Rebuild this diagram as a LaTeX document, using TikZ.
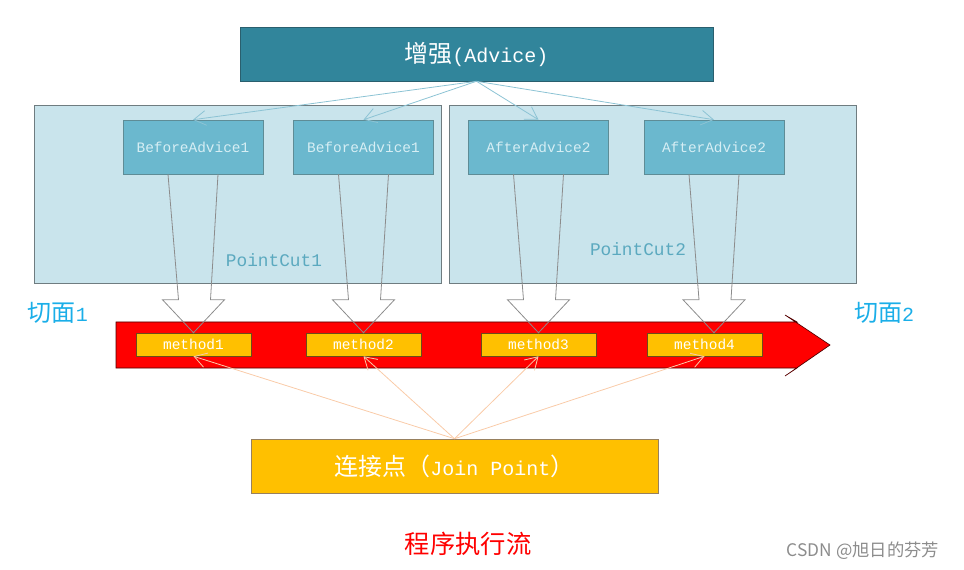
\documentclass[tikz,border=0pt]{standalone}
\usepackage{xcolor}
\usepackage{fontspec}
\setmainfont{Liberation Mono}[Scale=0.8333]
\newfontfamily\cjk{Noto Sans CJK SC}
\usetikzlibrary{arrows.meta,calc}

\definecolor{advfill}{HTML}{31859B}
\definecolor{advdraw}{HTML}{2A5F6E}
\definecolor{cutfill}{HTML}{C9E4EC}
\definecolor{cutdraw}{HTML}{6F7C80}
\definecolor{boxfill}{HTML}{6BB8CE}
\definecolor{boxdraw}{HTML}{5E8C96}
\definecolor{boxtext}{HTML}{D6EEF4}
\definecolor{cuttext}{HTML}{5BA9BF}
\definecolor{advline}{HTML}{8CC3D4}
\definecolor{blockline}{HTML}{8C8C8C}
\definecolor{methfill}{HTML}{FFC000}
\definecolor{methdraw}{HTML}{6B4A1A}
\definecolor{jpline}{HTML}{F9CBA8}
\definecolor{facetext}{HTML}{1AAEE8}

\newcommand\blockarrow[2]{%
  \draw[blockarrow] ($(#1.south)+(-25,0)$) -- ($(#2)+(-15,-33)$) -- ($(#2)+(-31,-33)$)
    -- (#2) -- ($(#2)+(31,-33)$) -- ($(#2)+(17,-33)$) -- ($(#1.south)+(25,0)$);}

\begin{document}
\begin{tikzpicture}[x=0.75pt, y=-0.75pt,
    advice/.style={rectangle, draw=advdraw, fill=advfill, text=white, minimum width=354.75pt, minimum height=40.5pt, font=\fontsize{18}{20}\selectfont},
    pointcut/.style={rectangle, draw=cutdraw, fill=cutfill, minimum width=305.25pt, minimum height=133.5pt},
    advbox/.style={rectangle, draw=boxdraw, fill=boxfill, text=boxtext, minimum width=105pt, minimum height=40.5pt, font=\fontsize{13}{15}\selectfont},
    cutlabel/.style={text=cuttext, font=\fontsize{16}{18}\selectfont},
    method/.style={rectangle, draw=methdraw, fill=methfill, text=white, minimum width=86.25pt, minimum height=17.25pt, inner sep=0pt, font=\fontsize{13}{15}\selectfont},
    joinpoint/.style={rectangle, draw=methdraw!70, fill=methfill, text=white, minimum width=305.25pt, minimum height=40.5pt, font=\fontsize{18}{20}\selectfont},
    facet/.style={text=facetext, font=\fontsize{18}{20}\selectfont},
    advarrow/.style={draw=advline, line width=0.6pt, -{Straight Barb[length=9pt,width=11pt]}},
    jparrow/.style={draw=jpline, line width=0.6pt, -{Straight Barb[length=9pt,width=11pt]}},
    blockarrow/.style={draw=blockline, line width=0.6pt}
]
\useasboundingbox (0,0) rectangle (964,570);

\node[advice] (advice) at (476.5,54) {{\cjk 增强}(Advice)};

\node[pointcut] (pointcut1) at (237.5,194) {};
\node[pointcut] (pointcut2) at (652.5,194) {};
\node[cutlabel] (cutlabel1) at (274,260) {PointCut1};
\node[cutlabel] (cutlabel2) at (638,249) {PointCut2};

\node[advbox] (before1) at (193,147) {BeforeAdvice1};
\node[advbox] (before2) at (363.5,147) {BeforeAdvice1};
\node[advbox] (after1) at (538.5,147) {AfterAdvice2};
\node[advbox] (after2) at (714,147) {AfterAdvice2};

\draw[advarrow] (advice.south) -- (before1.north);
\draw[advarrow] (advice.south) -- (before2.north);
\draw[advarrow] (advice.south) -- (after1.north);
\draw[advarrow] (advice.south) -- (after2.north);

\node[facet] (facet1) at (58,313) {{\cjk 切面}1};
\node[facet] (facet2) at (884,313) {{\cjk 切面}2};

\draw[fill=red, draw=black!70!red, line width=0.5pt] (116,322) -- (797,322) -- (785,315) -- (830,345)
  -- (785,376) -- (797,368) -- (116,368) -- cycle;

\node[method] (method1) at (193.5,344.5) {method1};
\node[method] (method2) at (363.5,344.5) {method2};
\node[method] (method3) at (538.5,344.5) {method3};
\node[method] (method4) at (704.5,344.5) {method4};
\coordinate (tip4) at ($(method4.north)+(9.5,0)$);

\blockarrow{before1}{method1.north}
\blockarrow{before2}{method2.north}
\blockarrow{after1}{method3.north}
\blockarrow{after2}{tip4}

\node[joinpoint] (join) at (454.5,466) {{\cjk 连接点（}Join Point{\cjk ）}};

\draw[jparrow] (join.north) -- (method1.south);
\draw[jparrow] (join.north) -- (method2.south);
\draw[jparrow] (join.north) -- (method3.south);
\draw[jparrow] (join.north) -- (method4.south);

\node[text=red, font=\cjk\fontsize{19}{21}\selectfont] (flow) at (468,544) {程序执行流};
\node[text=black!45, font=\cjk\fontsize{13}{15}\selectfont] (mark) at (863,551) {CSDN @旭日的芬芳};

\end{tikzpicture}
\end{document}
